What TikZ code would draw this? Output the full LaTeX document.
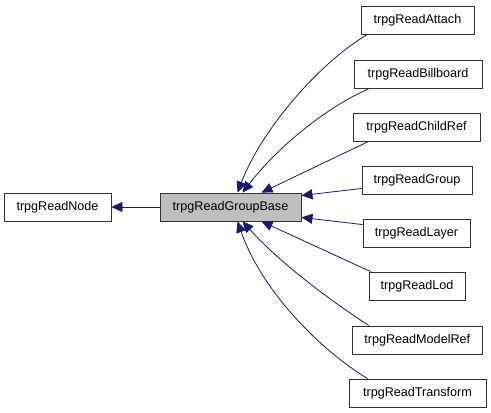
\documentclass[tikz,border=0pt]{standalone}
\usepackage{fontspec}
\setmainfont{Liberation Sans}
\usetikzlibrary{arrows.meta}
\definecolor{edgeblue}{HTML}{191970}
\definecolor{basefill}{HTML}{BFBFBF}
\tikzset{
  cls/.style={draw=black!80, line width=0.9pt, fill=white, inner sep=0pt, minimum height=28pt, font=\fontsize{12.6}{14}\selectfont},
  cur/.style={cls, fill=basefill},
  edge/.style={draw=edgeblue, line width=0.8pt, -{Triangle[length=11pt,width=10pt]}}
}
\begin{document}
\begin{tikzpicture}[x=1pt,y=-1pt]
\useasboundingbox (0,0) rectangle (491,413);
\node[cls, minimum width=107pt] (node) at (57.5,207) {trpgReadNode};
\node[cur, minimum width=141pt] (base) at (230.5,207) {trpgReadGroupBase};
\node[cls, minimum width=113pt] (attach) at (417.5,20) {trpgReadAttach};
\node[cls, minimum width=128pt] (billboard) at (418,74) {trpgReadBillboard};
\node[cls, minimum width=127pt] (childref) at (416.5,127) {trpgReadChildRef};
\node[cls, minimum width=110pt] (group) at (417,180) {trpgReadGroup};
\node[cls, minimum width=107pt] (layer) at (416.5,233) {trpgReadLayer};
\node[cls, minimum width=96pt] (lod) at (417,286) {trpgReadLod};
\node[cls, minimum width=130pt] (modelref) at (417.3,340) {trpgReadModelRef};
\node[cls, minimum width=137pt] (transform) at (417.5,393) {trpgReadTransform};

\draw[edge] (base.west) -- (node.east);
\draw[edge] ([xshift=7pt]attach.south west) .. controls +(-48,28) and +(24,-63) .. ([xshift=78pt]base.north west);
\draw[edge] ([xshift=16pt]billboard.south west) .. controls +(-40,17) and +(37,-48) .. ([xshift=83pt]base.north west);
\draw[edge] ([xshift=16pt]childref.south west) -- ([xshift=102pt]base.north west);
\draw[edge] ([yshift=6pt]group.south west) -- ([yshift=-3pt]base.north east);
\draw[edge] ([yshift=-6pt]layer.north west) -- ([yshift=4pt]base.south east);
\draw[edge] ([xshift=2pt]lod.north west) -- ([xshift=102pt]base.south west);
\draw[edge] ([xshift=17pt]modelref.north west) .. controls +(-40,-26) and +(37,41) .. ([xshift=83pt]base.south west);
\draw[edge] ([xshift=19pt]transform.north west) .. controls +(-48,-29) and +(24,69) .. ([xshift=78pt]base.south west);
\end{tikzpicture}
\end{document}
